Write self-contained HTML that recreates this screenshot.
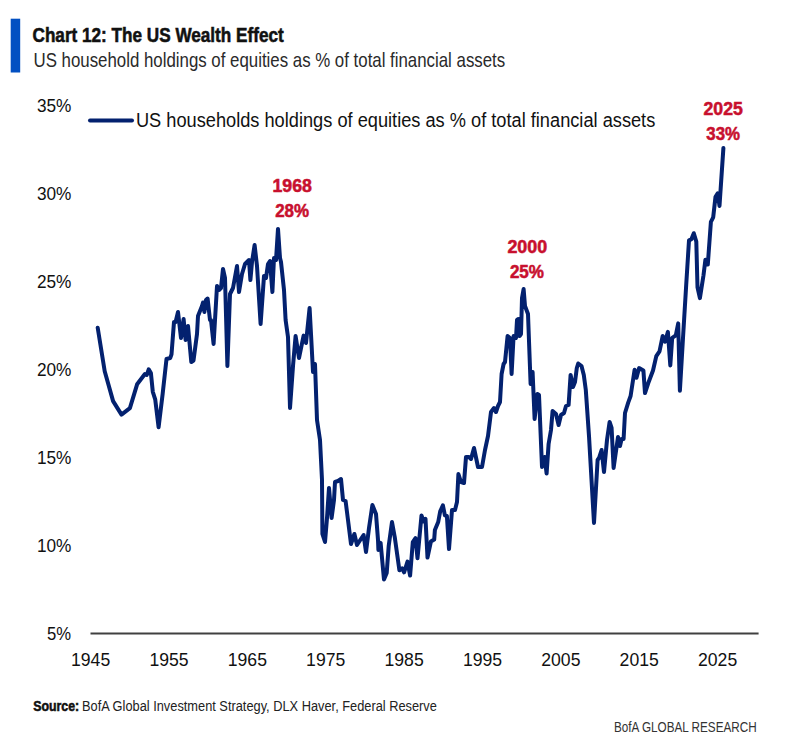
<!DOCTYPE html>
<html><head><meta charset="utf-8"><style>
html,body{margin:0;padding:0;background:#fff;}
body{width:804px;height:748px;overflow:hidden;}
svg{display:block;font-family:"Liberation Sans", sans-serif;}
</style></head><body>
<svg width="804" height="748" viewBox="0 0 804 748">
<rect width="804" height="748" fill="#fff"/>
<rect x="10.7" y="18.7" width="9.5" height="53.8" fill="#0250c2"/>
<text x="32.5" y="41.9" font-size="19.6" font-weight="bold" fill="#111" textLength="251.2" lengthAdjust="spacingAndGlyphs" text-anchor="start"  stroke="#111" stroke-width="0.55">Chart 12: The US Wealth Effect</text>
<text x="33.5" y="66.6" font-size="19.8" font-weight="normal" fill="#2a2a2a" textLength="471.7" lengthAdjust="spacingAndGlyphs" text-anchor="start" >US household holdings of equities as % of total financial assets</text>
<text x="36.9" y="111.5" font-size="19" font-weight="normal" fill="#111" textLength="34.5" lengthAdjust="spacingAndGlyphs" text-anchor="start" >35%</text>
<text x="36.9" y="199.5" font-size="19" font-weight="normal" fill="#111" textLength="34.5" lengthAdjust="spacingAndGlyphs" text-anchor="start" >30%</text>
<text x="36.9" y="287.5" font-size="19" font-weight="normal" fill="#111" textLength="34.5" lengthAdjust="spacingAndGlyphs" text-anchor="start" >25%</text>
<text x="36.9" y="375.5" font-size="19" font-weight="normal" fill="#111" textLength="34.5" lengthAdjust="spacingAndGlyphs" text-anchor="start" >20%</text>
<text x="36.9" y="463.5" font-size="19" font-weight="normal" fill="#111" textLength="34.5" lengthAdjust="spacingAndGlyphs" text-anchor="start" >15%</text>
<text x="36.9" y="551.5" font-size="19" font-weight="normal" fill="#111" textLength="34.5" lengthAdjust="spacingAndGlyphs" text-anchor="start" >10%</text>
<text x="46.9" y="639.5" font-size="19" font-weight="normal" fill="#111" textLength="24.1" lengthAdjust="spacingAndGlyphs" text-anchor="start" >5%</text>
<line x1="90.5" y1="633.6" x2="758.6" y2="633.6" stroke="#404040" stroke-width="2"/>
<text x="71.0" y="665.5" font-size="19" font-weight="normal" fill="#111" textLength="39.2" lengthAdjust="spacingAndGlyphs" text-anchor="start" >1945</text>
<text x="149.38" y="665.5" font-size="19" font-weight="normal" fill="#111" textLength="39.2" lengthAdjust="spacingAndGlyphs" text-anchor="start" >1955</text>
<text x="227.75" y="665.5" font-size="19" font-weight="normal" fill="#111" textLength="39.2" lengthAdjust="spacingAndGlyphs" text-anchor="start" >1965</text>
<text x="306.12" y="665.5" font-size="19" font-weight="normal" fill="#111" textLength="39.2" lengthAdjust="spacingAndGlyphs" text-anchor="start" >1975</text>
<text x="384.5" y="665.5" font-size="19" font-weight="normal" fill="#111" textLength="39.2" lengthAdjust="spacingAndGlyphs" text-anchor="start" >1985</text>
<text x="462.88" y="665.5" font-size="19" font-weight="normal" fill="#111" textLength="39.2" lengthAdjust="spacingAndGlyphs" text-anchor="start" >1995</text>
<text x="541.25" y="665.5" font-size="19" font-weight="normal" fill="#111" textLength="39.2" lengthAdjust="spacingAndGlyphs" text-anchor="start" >2005</text>
<text x="619.62" y="665.5" font-size="19" font-weight="normal" fill="#111" textLength="39.2" lengthAdjust="spacingAndGlyphs" text-anchor="start" >2015</text>
<text x="698.0" y="665.5" font-size="19" font-weight="normal" fill="#111" textLength="39.2" lengthAdjust="spacingAndGlyphs" text-anchor="start" >2025</text>
<line x1="90" y1="120.6" x2="132" y2="120.6" stroke="#03216f" stroke-width="4" stroke-linecap="round"/>
<text x="135.9" y="126.7" font-size="19.6" font-weight="normal" fill="#111" textLength="519.4" lengthAdjust="spacingAndGlyphs" text-anchor="start" >US households holdings of equities as % of total financial assets</text>
<text x="272.4" y="192.1" font-size="18.4" font-weight="bold" fill="#c8102e" textLength="39.5" lengthAdjust="spacingAndGlyphs" text-anchor="start"  stroke="#c8102e" stroke-width="0.55">1968</text>
<text x="275.2" y="216.9" font-size="18.4" font-weight="bold" fill="#c8102e" textLength="33.9" lengthAdjust="spacingAndGlyphs" text-anchor="start"  stroke="#c8102e" stroke-width="0.55">28%</text>
<text x="507.4" y="253.1" font-size="18.4" font-weight="bold" fill="#c8102e" textLength="39.8" lengthAdjust="spacingAndGlyphs" text-anchor="start"  stroke="#c8102e" stroke-width="0.55">2000</text>
<text x="509.9" y="278.4" font-size="18.4" font-weight="bold" fill="#c8102e" textLength="34.1" lengthAdjust="spacingAndGlyphs" text-anchor="start"  stroke="#c8102e" stroke-width="0.55">25%</text>
<text x="703.5" y="115.3" font-size="18.4" font-weight="bold" fill="#c8102e" textLength="39.3" lengthAdjust="spacingAndGlyphs" text-anchor="start"  stroke="#c8102e" stroke-width="0.55">2025</text>
<text x="706.3" y="140.0" font-size="18.4" font-weight="bold" fill="#c8102e" textLength="33.7" lengthAdjust="spacingAndGlyphs" text-anchor="start"  stroke="#c8102e" stroke-width="0.55">33%</text>
<path d="M97.7,327.7 L104.7,371.2 L113.1,401.1 L121.5,414.6 L129.9,408.2 L137.1,384.3 L144.9,374.0 L146.8,374.9 L148.7,369.3 L150.9,373.0 L152.8,391.8 L155.2,399.3 L158.6,427.3 L162.7,393.6 L166.5,359.0 L170.2,358.0 L171.5,354.3 L174.0,322.0 L175.6,322.0 L178.0,312.0 L181.0,338.0 L183.6,319.0 L185.6,340.0 L188.0,326.0 L191.3,362.0 L193.5,360.5 L197.0,334.0 L198.0,316.0 L200.0,311.0 L202.0,306.0 L203.0,302.5 L204.4,312.0 L206.0,300.0 L207.6,298.5 L210.0,320.0 L211.0,320.0 L213.6,344.0 L217.0,286.0 L219.0,290.0 L221.0,288.0 L223.0,269.0 L225.0,278.0 L227.4,366.0 L230.0,294.0 L233.0,288.0 L237.0,266.0 L239.0,292.0 L242.0,274.0 L245.0,264.0 L249.0,260.0 L250.4,280.0 L252.0,262.0 L254.6,245.0 L257.0,266.0 L260.6,324.0 L264.0,276.0 L266.0,278.0 L268.0,264.0 L270.0,261.0 L272.4,292.0 L274.0,258.0 L276.0,260.0 L278.0,229.0 L280.0,258.0 L281.0,262.0 L284.0,290.0 L285.6,320.0 L288.0,337.0 L290.0,408.0 L293.0,366.0 L295.6,336.0 L299.0,358.0 L303.6,335.6 L306.0,343.0 L309.6,308.0 L311.0,334.0 L313.0,372.0 L315.0,364.0 L317.0,420.0 L320.0,440.0 L322.0,480.0 L322.4,534.0 L325.0,542.0 L327.0,518.0 L329.0,488.0 L331.6,518.0 L334.0,500.0 L335.0,482.0 L338.0,481.0 L341.0,479.0 L343.0,500.0 L345.6,501.0 L348.0,520.0 L351.0,544.0 L354.4,534.0 L357.0,545.0 L359.6,541.0 L363.6,535.0 L366.0,552.0 L369.0,528.0 L372.4,505.0 L376.0,514.0 L378.0,540.0 L378.4,550.0 L380.6,542.8 L384.0,579.6 L386.7,573.0 L388.7,546.0 L392.0,522.0 L394.7,536.8 L399.4,570.3 L402.1,568.3 L404.1,572.3 L407.5,561.6 L410.1,575.6 L412.8,542.2 L415.5,538.2 L417.5,558.2 L421.5,515.4 L423.5,521.4 L425.5,518.8 L427.5,557.6 L430.9,541.5 L434.2,539.5 L434.9,530.0 L438.2,522.0 L440.2,511.4 L442.9,505.4 L444.9,515.4 L446.9,516.0 L449.0,549.0 L452.0,510.0 L455.0,510.0 L457.0,502.0 L458.4,474.0 L461.0,482.0 L464.0,483.0 L466.0,457.0 L469.0,457.0 L471.0,459.0 L474.0,448.0 L478.0,467.0 L482.0,467.0 L485.0,450.0 L488.0,436.0 L491.0,412.0 L494.0,408.0 L496.0,412.0 L498.0,406.0 L500.0,402.0 L501.6,374.0 L503.6,364.0 L505.0,362.0 L507.6,336.0 L510.0,338.0 L511.6,374.0 L513.6,336.0 L516.0,338.0 L517.0,320.0 L518.4,319.0 L519.6,336.0 L521.0,334.0 L522.0,298.0 L523.6,289.0 L525.0,306.0 L528.0,314.0 L530.6,384.0 L532.6,372.0 L534.6,419.0 L537.4,394.0 L539.0,395.0 L542.0,467.0 L544.6,457.0 L546.6,473.6 L548.6,444.0 L551.0,430.0 L552.6,411.0 L556.0,414.0 L558.6,425.0 L561.0,415.0 L564.0,413.0 L566.0,406.0 L568.6,405.0 L570.6,375.0 L573.0,387.0 L575.0,382.0 L576.8,368.0 L578.2,363.5 L581.5,366.0 L583.8,375.0 L585.8,390.0 L589.0,436.0 L594.0,523.0 L597.6,460.0 L599.0,458.0 L601.6,450.0 L604.0,472.0 L607.0,440.0 L609.6,422.0 L611.6,428.0 L613.6,468.0 L618.0,437.0 L620.0,446.0 L621.6,439.0 L623.6,439.0 L625.0,413.0 L628.2,402.6 L630.6,396.0 L634.6,369.7 L636.5,377.7 L639.1,368.1 L643.4,370.5 L645.0,393.0 L648.2,383.3 L653.0,370.5 L656.3,356.1 L659.5,351.3 L662.7,336.0 L665.1,341.7 L667.9,331.8 L670.3,365.4 L672.2,337.8 L675.8,335.4 L678.2,323.4 L679.9,390.7 L683.0,337.8 L686.2,284.9 L689.0,240.4 L691.4,239.2 L693.8,233.2 L696.3,241.6 L697.5,287.3 L699.9,298.1 L703.5,275.3 L705.4,259.7 L707.8,264.5 L710.9,221.8 L713.2,217.3 L715.5,196.8 L717.7,193.4 L719.5,205.9 L723.4,148.0" fill="none" stroke="#03216f" stroke-width="4.0" stroke-linejoin="round" stroke-linecap="round"/>
<text x="33.2" y="711.1" font-size="15.2" font-weight="bold" fill="#111" textLength="46" lengthAdjust="spacingAndGlyphs" text-anchor="start"  stroke="#111" stroke-width="0.55">Source:</text>
<text x="82" y="711.1" font-size="15.2" font-weight="normal" fill="#222" textLength="354.9" lengthAdjust="spacingAndGlyphs" text-anchor="start" >BofA Global Investment Strategy, DLX Haver, Federal Reserve</text>
<text x="613.9" y="732.4" font-size="15.4" font-weight="normal" fill="#333" textLength="142.8" lengthAdjust="spacingAndGlyphs" text-anchor="start" >BofA GLOBAL RESEARCH</text>
</svg></body></html>
